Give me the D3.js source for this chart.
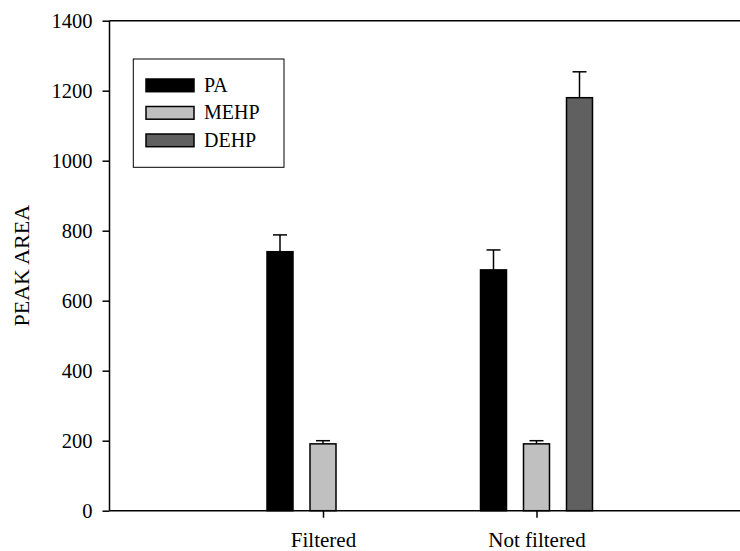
<!DOCTYPE html>
<html>
<head>
<meta charset="utf-8">
<script src="https://cdn.jsdelivr.net/npm/d3@7"></script>
<style>
  body { margin: 0; background: #fff; }
  svg text { font-family: "Liberation Serif", "Times New Roman", serif; fill: #000; }
</style>
</head>
<body>
<svg id="chart" width="740" height="551"></svg>
<script>
// Data
const categories = ['Filtered', 'Not filtered'];
const seriesNames = ['PA', 'MEHP', 'DEHP'];
const seriesColors = ['#000000', '#c0c0c0', '#606060'];
const paValues = [740, 688];
const paErrors = [48, 57];
const mehpValues = [191, 191];
const mehpErrors = [9, 9];
const dehpValues = [null, 1180];
const dehpErrors = [null, 74];
const yTicks = [0, 200, 400, 600, 800, 1000, 1200, 1400];

const seriesValues = [paValues, mehpValues, dehpValues];
const seriesErrors = [paErrors, mehpErrors, dehpErrors];

const rows = [];
categories.forEach((cat, i) => {
  seriesNames.forEach((s, j) => {
    if (seriesValues[j][i] != null) {
      rows.push({ cat, series: s, value: seriesValues[j][i], err: seriesErrors[j][i], color: seriesColors[j] });
    }
  });
});

// plot box (right end runs past the window, like the reference)
const plotLeft = 109.5, plotRight = 750, plotTop = 20.7, plotBottom = 510.7;
const svg = d3.select('#chart');

const x = d3.scalePoint().domain(categories).range([plotLeft, plotRight]).padding(1);
const xInner = d3.scaleBand().domain(seriesNames).range([-64.5, 64.5])
  .paddingInner(17 / 43).paddingOuter(8.5 / 43);
const y = d3.scaleLinear().domain([0, 1400]).range([plotBottom, plotTop]);

// bars
svg.append('g').selectAll('rect')
  .data(rows)
  .enter()
  .append('rect')
  .attr('x', d => x(d.cat) + xInner(d.series))
  .attr('y', d => y(d.value))
  .attr('width', xInner.bandwidth())
  .attr('height', d => y(0) - y(d.value))
  .attr('fill', d => d.color)
  .attr('stroke', '#000')
  .attr('stroke-width', 1.5);

// error bars (upper only)
const errG = svg.append('g').attr('stroke', '#000').attr('stroke-width', 1.5);
rows.forEach(d => {
  const cx = x(d.cat) + xInner(d.series) + xInner.bandwidth() / 2;
  errG.append('line')
    .attr('x1', cx).attr('x2', cx)
    .attr('y1', y(d.value)).attr('y2', y(d.value + d.err));
  errG.append('line')
    .attr('x1', cx - 7).attr('x2', cx + 7)
    .attr('y1', y(d.value + d.err)).attr('y2', y(d.value + d.err));
});

// y axis
const yAxis = svg.append('g')
  .attr('transform', `translate(${plotLeft},0)`)
  .call(d3.axisLeft(y).tickValues(yTicks).tickSize(7).tickPadding(10).tickFormat(d3.format('d')));
yAxis.select('.domain').attr('stroke-width', 1.5).attr('d', `M0,${plotBottom}V${plotTop}`);
yAxis.selectAll('.tick line').attr('stroke-width', 1.5);
yAxis.selectAll('text').style('font-size', '20.5px');

// x axis
const xAxis = svg.append('g')
  .attr('transform', `translate(0,${plotBottom})`)
  .call(d3.axisBottom(x).tickSize(7).tickPadding(14));
xAxis.select('.domain').attr('stroke-width', 1.5).attr('d', `M${plotLeft},0H${plotRight}`);
xAxis.selectAll('.tick line').attr('stroke-width', 1.5);
xAxis.selectAll('text').style('font-size', '21px');

// top frame line
svg.append('line')
  .attr('x1', plotLeft).attr('x2', plotRight)
  .attr('y1', plotTop).attr('y2', plotTop)
  .attr('stroke', '#000').attr('stroke-width', 1.5);

// y label
svg.append('text')
  .attr('transform', `translate(28.5,${(plotTop + plotBottom) / 2}) rotate(-90)`)
  .attr('text-anchor', 'middle')
  .style('font-size', '22px')
  .text('PEAK AREA');

// legend
const legend = svg.append('g');
legend.append('rect')
  .attr('x', 133.3).attr('y', 59)
  .attr('width', 150.7).attr('height', 108.3)
  .attr('fill', '#fff').attr('stroke', '#000').attr('stroke-width', 1);
seriesNames.forEach((s, j) => {
  const yy = 79 + j * 27.5;
  legend.append('rect')
    .attr('x', 146).attr('y', yy)
    .attr('width', 48).attr('height', 12.7)
    .attr('fill', seriesColors[j]).attr('stroke', '#000').attr('stroke-width', 1.5);
  legend.append('text')
    .attr('x', 204).attr('y', yy + 12.7)
    .style('font-size', '20px')
    .text(s);
});
</script>
</body>
</html>
